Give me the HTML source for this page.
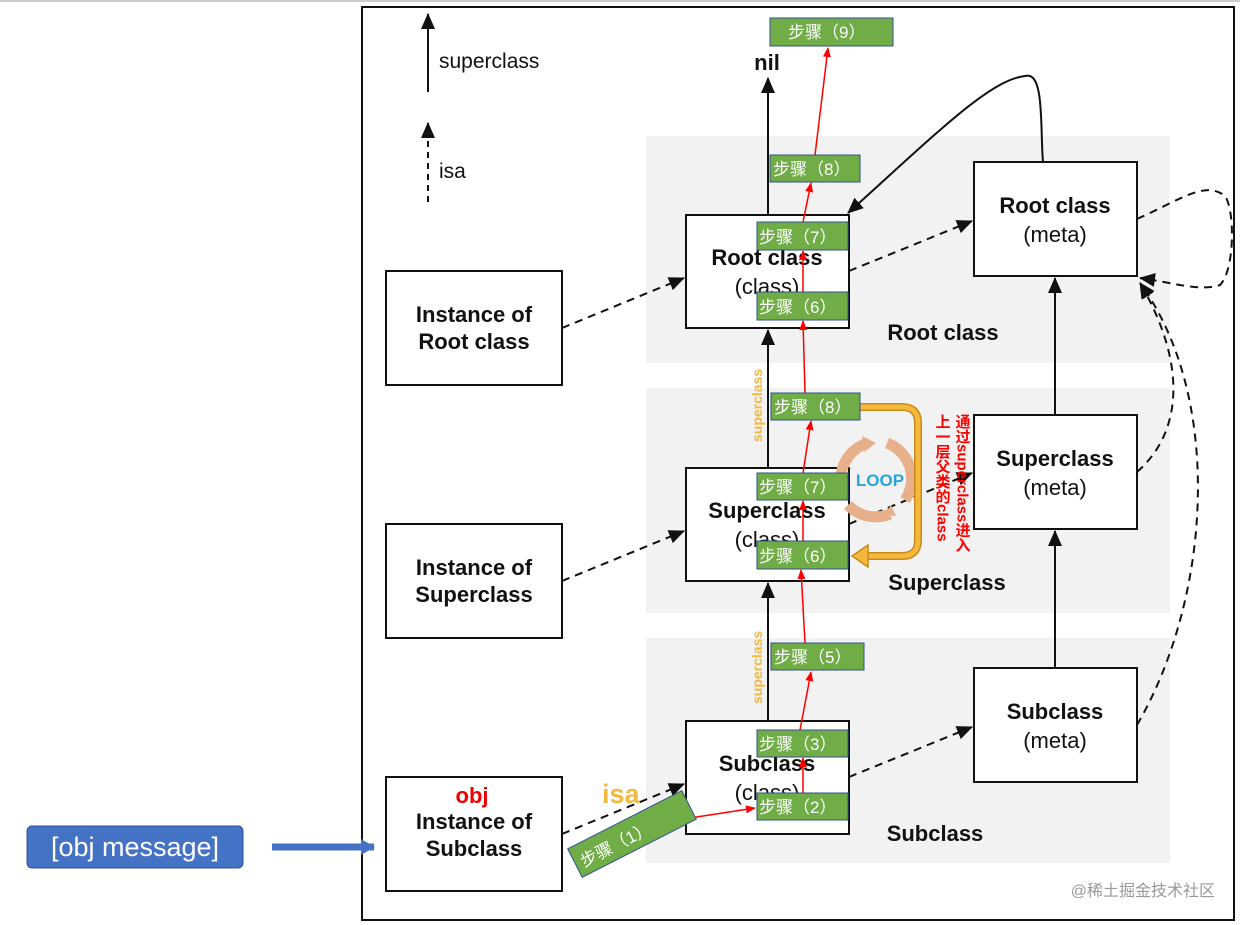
<!DOCTYPE html>
<html><head><meta charset="utf-8"><style>
html,body{margin:0;padding:0;background:#fff;width:1240px;height:925px;overflow:hidden}
svg{display:block}
.b{font-family:"Liberation Sans",Arial,sans-serif;font-weight:bold;font-size:22px;fill:#111;text-anchor:middle}
.n{font-family:"Liberation Sans",Arial,sans-serif;font-size:22px;fill:#111;text-anchor:middle}
.g{font-family:"Liberation Sans","Noto Sans CJK SC",sans-serif;font-size:17px;fill:#fff}
.box{fill:#fff;stroke:#111;stroke-width:2}
.st{fill:#70ad47;stroke:#2f528f;stroke-width:1}
</style></head><body>
<svg width="1240" height="925" viewBox="0 0 1240 925" xmlns="http://www.w3.org/2000/svg">
<defs>
<marker id="ar" markerWidth="10" markerHeight="10" refX="9" refY="5" orient="auto" markerUnits="userSpaceOnUse"><path d="M0,1 L10,5 L0,9 Z" fill="#f00"/></marker>
<marker id="akb" markerWidth="16" markerHeight="14" refX="15" refY="7" orient="auto" markerUnits="userSpaceOnUse"><path d="M0,0 L16,7 L0,14 Z" fill="#111"/></marker>
<marker id="ab" markerWidth="14" markerHeight="16" refX="13" refY="8" orient="auto" markerUnits="userSpaceOnUse"><path d="M0,0 L14,8 L0,16 Z" fill="#4472c4"/></marker>
</defs>
<line x1="0" y1="1" x2="1240" y2="1" stroke="#999" stroke-width="1"/>
<rect x="362" y="7" width="872" height="913" fill="#fff" stroke="#111" stroke-width="2"/>
<rect x="646" y="136" width="524" height="227" fill="#f2f2f2"/>
<rect x="646" y="388" width="524" height="225" fill="#f2f2f2"/>
<rect x="646" y="638" width="524" height="225" fill="#f2f2f2"/>

<line x1="428" y1="92" x2="428" y2="14" stroke="#111" stroke-width="2" marker-end="url(#akb)"/>
<text x="439" y="68" font-family="Liberation Sans,sans-serif" font-size="21" fill="#111">superclass</text>
<line x1="428" y1="202" x2="428" y2="123" stroke="#111" stroke-width="2" stroke-dasharray="6,5" marker-end="url(#akb)"/>
<text x="439" y="178" font-family="Liberation Sans,sans-serif" font-size="21" fill="#111">isa</text>

<text x="767" y="70" class="b" font-size="21">nil</text>
<line x1="768" y1="215" x2="768" y2="78" stroke="#111" stroke-width="2" marker-end="url(#akb)"/>
<line x1="768" y1="468" x2="768" y2="330" stroke="#111" stroke-width="2" marker-end="url(#akb)"/>
<line x1="768" y1="721" x2="768" y2="583" stroke="#111" stroke-width="2" marker-end="url(#akb)"/>
<line x1="1055" y1="415" x2="1055" y2="278" stroke="#111" stroke-width="2" marker-end="url(#akb)"/>
<line x1="1055" y1="668" x2="1055" y2="531" stroke="#111" stroke-width="2" marker-end="url(#akb)"/>
<path d="M1043,162 C1040,130 1045,70 1025,76 C990,80 940,130 848,213" fill="none" stroke="#111" stroke-width="2" marker-end="url(#akb)"/>

<g fill="none" stroke="#111" stroke-width="2" stroke-dasharray="8,6">
<line x1="562" y1="328" x2="684" y2="278" marker-end="url(#akb)"/>
<line x1="562" y1="581" x2="684" y2="531" marker-end="url(#akb)"/>
<line x1="562" y1="834" x2="684" y2="784" marker-end="url(#akb)"/>
<line x1="849" y1="271" x2="972" y2="221" marker-end="url(#akb)"/>
<line x1="849" y1="524" x2="972" y2="473" marker-end="url(#akb)"/>
<line x1="849" y1="777" x2="972" y2="727" marker-end="url(#akb)"/>
<path d="M1137,219 C1180,200 1205,180 1225,196 C1235,210 1235,270 1220,285 C1200,292 1170,282 1140,278" marker-end="url(#akb)"/>
<path d="M1137,472 C1185,430 1185,360 1140,283" marker-end="url(#akb)"/>
<path d="M1137,725 C1210,600 1225,400 1140,283" marker-end="url(#akb)"/>
</g>

<rect class="box" x="386" y="271" width="176" height="114"/>
<text class="b" x="474" y="322">Instance of</text><text class="b" x="474" y="349">Root class</text>
<rect class="box" x="386" y="524" width="176" height="114"/>
<text class="b" x="474" y="575">Instance of</text><text class="b" x="474" y="602">Superclass</text>
<rect class="box" x="386" y="777" width="176" height="114"/>
<text class="b" x="472" y="803" style="fill:#e00" font-size="20">obj</text>
<text class="b" x="474" y="829">Instance of</text><text class="b" x="474" y="856">Subclass</text>

<rect class="box" x="686" y="215" width="163" height="113"/>
<text class="b" x="767" y="265">Root class</text><text class="n" x="767" y="294">(class)</text>
<rect class="box" x="686" y="468" width="163" height="113"/>
<text class="b" x="767" y="518">Superclass</text><text class="n" x="767" y="547">(class)</text>
<rect class="box" x="686" y="721" width="163" height="113"/>
<text class="b" x="767" y="771">Subclass</text><text class="n" x="767" y="800">(class)</text>

<rect class="box" x="974" y="162" width="163" height="114"/>
<text class="b" x="1055" y="213">Root class</text><text class="n" x="1055" y="242">(meta)</text>
<rect class="box" x="974" y="415" width="163" height="114"/>
<text class="b" x="1055" y="466">Superclass</text><text class="n" x="1055" y="495">(meta)</text>
<rect class="box" x="974" y="668" width="163" height="114"/>
<text class="b" x="1055" y="719">Subclass</text><text class="n" x="1055" y="748">(meta)</text>

<text class="b" x="943" y="340" font-size="21">Root class</text>
<text class="b" x="947" y="590" font-size="21">Superclass</text>
<text class="b" x="935" y="841" font-size="21">Subclass</text>

<text transform="translate(762,442) rotate(-90)" font-family="Liberation Sans,sans-serif" font-weight="bold" font-size="14" fill="#f4b73f">superclass</text>
<text transform="translate(762,704) rotate(-90)" font-family="Liberation Sans,sans-serif" font-weight="bold" font-size="14" fill="#f4b73f">superclass</text>
<text x="602" y="803" font-family="Liberation Sans,sans-serif" font-weight="bold" font-size="27" fill="#f4b73f">isa</text>

<g fill="none" stroke="#e8b08a" stroke-width="11">
<path d="M843,492 A38,38 0 0 1 868,443"/>
<path d="M887,443 A38,38 0 0 1 905,500"/>
<path d="M890,514 A38,38 0 0 1 848,505"/>
</g>
<path d="M862,436 L876,443 L864,452 Z" fill="#e8b08a"/>
<path d="M896,516 L884,515 L891,505 Z" fill="#e8b08a"/>
<text x="880" y="486" font-family="Liberation Sans,sans-serif" font-weight="bold" font-size="17" fill="#29a3e0" text-anchor="middle">LOOP</text>
<path d="M860,407 L902,407 Q918,407 918,423 L918,540 Q918,556 902,556 L868,556" fill="none" stroke="#c88a1a" stroke-width="8"/>
<path d="M860,407 L902,407 Q918,407 918,423 L918,540 Q918,556 902,556 L868,556" fill="none" stroke="#f6b83c" stroke-width="5"/>
<path d="M852,556 L868,545 L868,567 Z" fill="#f6b83c" stroke="#c88a1a" stroke-width="1.5"/>
<text font-family="Liberation Sans,'Noto Sans CJK SC',sans-serif" font-weight="bold" font-size="15" fill="#f00" style="writing-mode:vertical-rl" transform="translate(962,414)">通过superclass进入</text>
<text font-family="Liberation Sans,'Noto Sans CJK SC',sans-serif" font-weight="bold" font-size="15" fill="#f00" style="writing-mode:vertical-rl" transform="translate(942,414)">上一层父类的class</text>

<g stroke="#f00" stroke-width="1.5" fill="none" marker-end="url(#ar)">
<line x1="690" y1="818" x2="755" y2="808"/>
<line x1="803" y1="793" x2="803" y2="758"/>
<line x1="800" y1="730" x2="811" y2="672"/>
<line x1="805" y1="643" x2="801" y2="570"/>
<line x1="803" y1="541" x2="803" y2="501"/>
<line x1="803" y1="473" x2="811" y2="421"/>
<line x1="805" y1="393" x2="803" y2="321"/>
<line x1="803" y1="292" x2="803" y2="251"/>
<line x1="803" y1="222" x2="811" y2="183"/>
<line x1="815" y1="155" x2="828" y2="48"/>
</g>

<rect class="st" x="770" y="18" width="123" height="28"/><text class="g" x="788" y="38">步骤（9）</text>
<rect class="st" x="770" y="155" width="90" height="27"/><text class="g" x="773" y="175">步骤（8）</text>
<rect class="st" x="757" y="222" width="91" height="28"/><text class="g" x="759" y="243">步骤（7）</text>
<rect class="st" x="757" y="292" width="91" height="28"/><text class="g" x="759" y="313">步骤（6）</text>
<rect class="st" x="771" y="393" width="89" height="27"/><text class="g" x="774" y="413">步骤（8）</text>
<rect class="st" x="757" y="473" width="91" height="27"/><text class="g" x="759" y="493">步骤（7）</text>
<rect class="st" x="757" y="541" width="91" height="28"/><text class="g" x="759" y="562">步骤（6）</text>
<rect class="st" x="771" y="643" width="93" height="27"/><text class="g" x="774" y="663">步骤（5）</text>
<rect class="st" x="757" y="730" width="91" height="27"/><text class="g" x="759" y="750">步骤（3）</text>
<rect class="st" x="757" y="793" width="91" height="27"/><text class="g" x="759" y="813">步骤（2）</text>
<g transform="translate(632,834) rotate(-27)">
<rect class="st" x="-64" y="-16" width="128" height="32"/>
<text class="g" x="-58" y="8" font-size="21">步骤（1）</text>
</g>

<rect x="27" y="826" width="216" height="42" rx="5" fill="#4472c4" stroke="#2f528f"/>
<text x="135" y="856" font-family="Liberation Sans,sans-serif" font-size="27" fill="#fff" text-anchor="middle">[obj message]</text>
<line x1="272" y1="847" x2="374" y2="847" stroke="#4472c4" stroke-width="7" marker-end="url(#ab)"/>

<text x="1215" y="896" font-family="Liberation Sans,'Noto Sans CJK SC',sans-serif" font-size="16" fill="#999" text-anchor="end">@稀土掘金技术社区</text>
</svg>
</body></html>
